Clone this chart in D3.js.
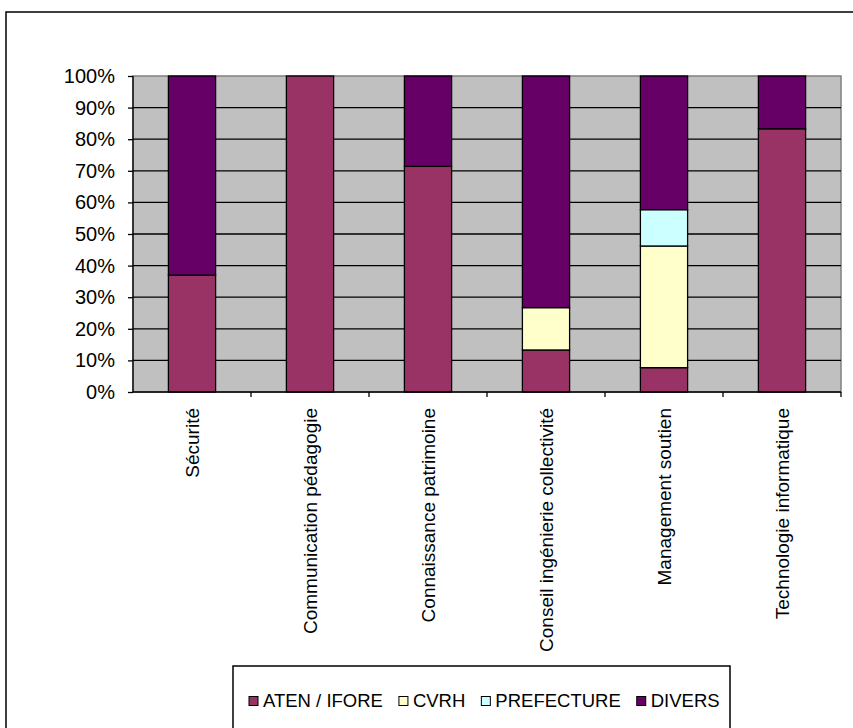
<!DOCTYPE html>
<html>
<head>
<meta charset="utf-8">
<script src="https://cdn.jsdelivr.net/npm/d3@7"></script>
<style>
  body { margin: 0; background: #fff; }
  text { font-family: "Liberation Sans", Arial, sans-serif; fill: #000; }
</style>
</head>
<body>
<div id="chart_div"></div>
<script>
// categories and series (percent of each category)
var categories = ["Sécurité", "Communication pédagogie", "Connaissance patrimoine",
                  "Conseil ingénierie collectivité", "Management soutien", "Technologie informatique"];
var seriesNames = ["ATEN / IFORE", "CVRH", "PREFECTURE", "DIVERS"];
var seriesColors = ["#993366", "#FFFFCC", "#CCFFFF", "#660066"];
var atenValues = [37.0, 100, 71.4, 13.3, 7.7, 83.3];
var cvrhValues = [0, 0, 0, 13.4, 38.5, 0];
var prefectureValues = [0, 0, 0, 0, 11.5, 0];
var diversValues = [63.0, 0, 28.6, 73.3, 42.3, 16.7];
var yTicks = [0, 10, 20, 30, 40, 50, 60, 70, 80, 90, 100];

var W = 853, H = 728;
var plot = {left: 133, top: 76, right: 841, bottom: 392};

var svg = d3.select("#chart_div")
			.append("svg")
			.attr("id", "main_svg")
			.attr("width", W)
			.attr("height", H);

// outer frame (runs off the right and bottom edge)
svg.append("rect")
	.attr("x", 6).attr("y", 12)
	.attr("width", 900).attr("height", 800)
	.style("fill", "#fff")
	.style("stroke", "#000")
	.style("stroke-width", 1.5);

var x = d3.scaleBand()
		.domain(categories)
		.range([plot.left, plot.right])
		.paddingInner(0.6)
		.paddingOuter(0.3);
var xBand = d3.scaleBand()
		.domain(categories)
		.range([plot.left, plot.right]);
var y = d3.scaleLinear()
		.domain([0, 100])
		.range([plot.bottom, plot.top]);

// plot area
svg.append("rect")
	.attr("x", plot.left).attr("y", plot.top)
	.attr("width", plot.right - plot.left)
	.attr("height", plot.bottom - plot.top)
	.style("fill", "#C0C0C0")
	.style("stroke", "#808080")
	.style("stroke-width", 1.5);

// gridlines
svg.append("g")
	.selectAll("line")
	.data(yTicks.filter(function(d) { return d > 0 && d < 100; }))
	.enter()
	.append("line")
	.attr("x1", plot.left).attr("x2", plot.right)
	.attr("y1", function(d) { return y(d); })
	.attr("y2", function(d) { return y(d); })
	.style("stroke", "#000")
	.style("stroke-width", 1.3);

// stacked bars
var rows = categories.map(function(c, i) {
	return {cat: c, "ATEN / IFORE": atenValues[i], "CVRH": cvrhValues[i],
	        "PREFECTURE": prefectureValues[i], "DIVERS": diversValues[i]};
});
var stacked = d3.stack().keys(seriesNames)(rows);

var layers = svg.selectAll(".layer")
		.data(stacked)
		.enter()
		.append("g")
		.attr("class", "layer")
		.style("fill", function(d, i) { return seriesColors[i]; });

layers.selectAll("rect")
	.data(function(d) { return d.filter(function(p) { return p[1] - p[0] > 0; }); })
	.enter()
	.append("rect")
	.attr("x", function(d) { return x(d.data.cat); })
	.attr("width", x.bandwidth())
	.attr("y", function(d) { return y(d[1]); })
	.attr("height", function(d) { return y(d[0]) - y(d[1]); })
	.style("stroke", "#000")
	.style("stroke-width", 1.3);

// y axis
var yAxis = svg.append("g")
	.attr("transform", "translate(" + plot.left + ",0)")
	.call(d3.axisLeft(y).tickValues(yTicks).tickSize(5).tickPadding(13)
		.tickFormat(function(d) { return d + "%"; }));
yAxis.selectAll("text").style("font-size", "20px");
yAxis.select(".domain").attr("d", "M0," + plot.top + "V" + plot.bottom).style("stroke-width", 1.3);
yAxis.selectAll(".tick line").style("stroke-width", 1.3);

// x axis with ticks at band boundaries
var xAxis = svg.append("g")
	.attr("transform", "translate(0," + plot.bottom + ")");
xAxis.append("line")
	.attr("x1", plot.left).attr("x2", plot.right)
	.style("stroke", "#000").style("stroke-width", 1.3);
xAxis.selectAll(".xtick")
	.data(categories)
	.enter()
	.append("line")
	.attr("class", "xtick")
	.attr("x1", function(d) { return xBand(d) + xBand.bandwidth(); })
	.attr("x2", function(d) { return xBand(d) + xBand.bandwidth(); })
	.attr("y1", 0).attr("y2", 5)
	.style("stroke", "#000").style("stroke-width", 1.3);
xAxis.selectAll(".xlabel")
	.data(categories)
	.enter()
	.append("text")
	.attr("class", "xlabel")
	.attr("transform", function(d) {
		return "translate(" + (xBand(d) + xBand.bandwidth() / 2) + ",16) rotate(-90)"; })
	.attr("text-anchor", "end")
	.attr("dy", "0.35em")
	.style("font-size", "19px")
	.text(function(d) { return d; });

// legend
svg.append("rect")
	.attr("x", 233).attr("y", 666)
	.attr("width", 497).attr("height", 100)
	.style("fill", "#fff")
	.style("stroke", "#000")
	.style("stroke-width", 1.5);

var legendRectSize = 9;
var legendSpacing = 5;
var legend = svg.selectAll(".legend")
		.data(seriesNames)
		.enter()
		.append("g")
		.attr("class", "legend");

legend.append("rect")
	.attr("width", legendRectSize)
	.attr("height", legendRectSize)
	.attr("y", -legendRectSize / 2)
	.style("fill", function(d, i) { return seriesColors[i]; })
	.style("stroke", "#000");

legend.append("text")
	.attr("x", legendRectSize + legendSpacing)
	.attr("dy", "0.35em")
	.style("font-size", "18.5px")
	.text(function(d) { return d; });

var lx = 249;
legend.attr("transform", function(d) {
	var w = this.querySelector("text").getComputedTextLength();
	var t = "translate(" + lx + ",701)";
	lx += legendRectSize + legendSpacing + w + 16;
	return t;
});
</script>
</body>
</html>
